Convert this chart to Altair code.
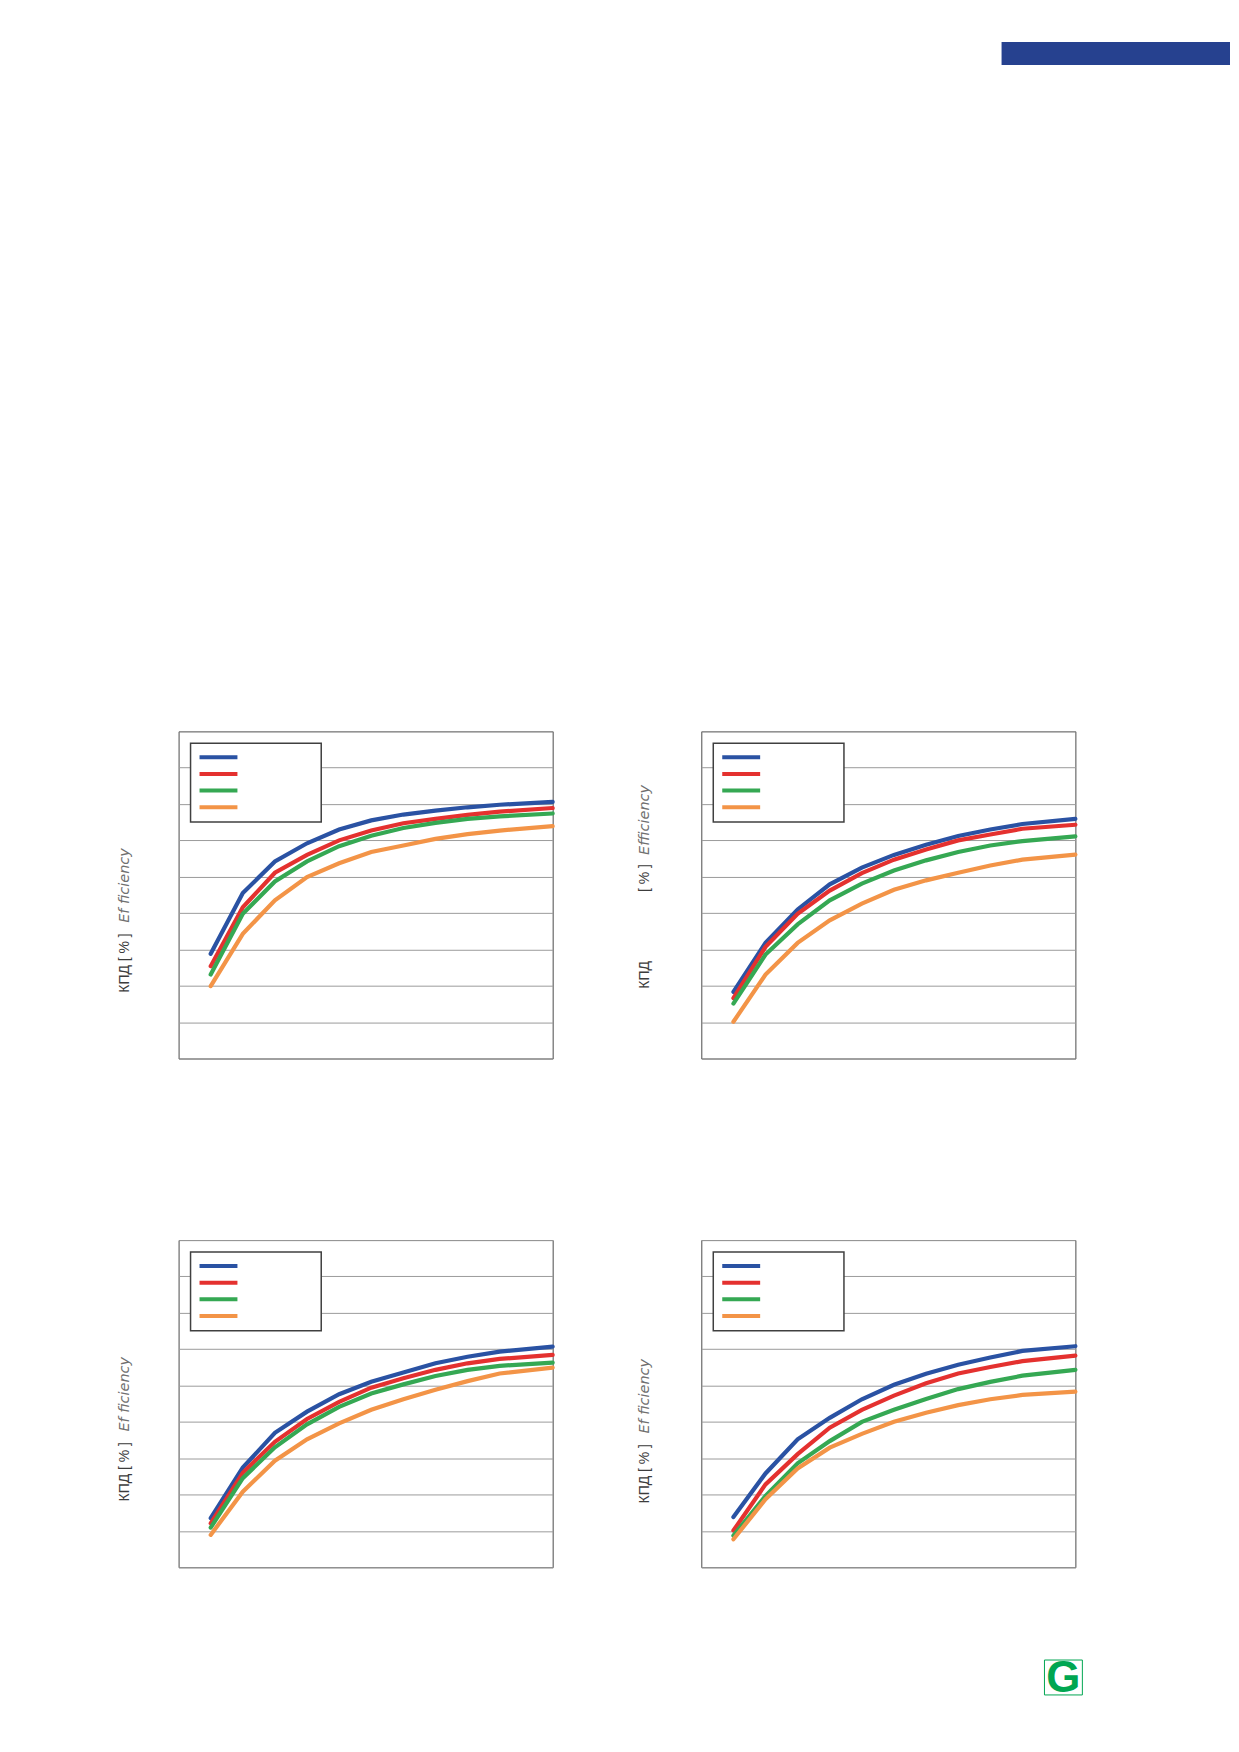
import altair as alt
import pandas as pd

# ---- data ----
SERIES = ["1", "2", "3", "4"]          # legend labels not legible in the source
COLORS = ["#2A52A3", "#E4312F", "#35A853", "#F39447"]
LOAD = [10, 20, 30, 40, 50, 60, 70, 80, 90, 100, 116.5]

P1_BLUE = [38.8, 55.5, 64.2, 69.2, 73.0, 75.5, 77.1, 78.2, 79.1, 79.8, 80.6]
P1_RED = [35.4, 51.6, 61.1, 66.0, 70.0, 72.7, 74.7, 75.9, 77.0, 77.9, 78.9]
P1_GREEN = [33.1, 49.8, 58.7, 64.2, 68.4, 71.3, 73.4, 74.8, 75.9, 76.6, 77.4]
P1_ORANGE = [29.9, 44.3, 53.5, 59.9, 63.7, 66.8, 68.6, 70.4, 71.7, 72.7, 73.9]

P2_BLUE = [28.3, 41.8, 51.0, 57.9, 62.5, 66.0, 68.8, 71.2, 73.0, 74.5, 75.9]
P2_RED = [26.6, 40.7, 49.8, 56.2, 61.0, 64.7, 67.5, 70.0, 71.6, 73.2, 74.3]
P2_GREEN = [25.1, 38.6, 46.9, 53.5, 58.1, 61.7, 64.5, 66.8, 68.6, 69.8, 71.1]
P2_ORANGE = [20.1, 33.1, 41.8, 48.0, 52.6, 56.4, 59.0, 61.1, 63.1, 64.7, 66.1]

P3_BLUE = [23.5, 37.4, 47.0, 52.8, 57.6, 61.0, 63.6, 66.1, 67.9, 69.3, 70.7]
P3_RED = [22.1, 36.0, 44.5, 50.8, 55.5, 59.4, 62.0, 64.3, 66.1, 67.3, 68.4]
P3_GREEN = [20.9, 34.5, 43.0, 49.3, 54.1, 57.8, 60.3, 62.6, 64.3, 65.4, 66.3]
P3_ORANGE = [18.9, 30.8, 39.3, 45.2, 49.6, 53.3, 56.2, 58.8, 61.2, 63.3, 64.9]

P4_BLUE = [23.8, 35.8, 45.2, 51.1, 56.2, 60.2, 63.2, 65.7, 67.7, 69.5, 70.8]
P4_RED = [20.1, 32.8, 41.1, 48.4, 53.3, 57.2, 60.6, 63.3, 65.1, 66.7, 68.2]
P4_GREEN = [18.7, 29.6, 38.6, 44.7, 50.0, 53.3, 56.3, 59.0, 61.0, 62.7, 64.3]
P4_ORANGE = [17.7, 28.7, 37.2, 42.9, 46.7, 50.0, 52.5, 54.6, 56.2, 57.4, 58.3]

Y_GRID = [10, 20, 30, 40, 50, 60, 70, 80, 90, 100]

TITLE_MAIN = "КПД [ % ]"
TITLE_EN = "Ef ficiency"

FONT = "Liberation Sans"
FONT_EN = "DejaVu Sans"
W, H = 375, 328


def long_df(series_vals):
    rows = []
    for name, vals in zip(SERIES, series_vals):
        for x, v in zip(LOAD, vals):
            rows.append({"load": x, "eff": v, "series": name})
    return pd.DataFrame(rows)


def vtext(txt, x, y, color, italic=False):
    return alt.Chart(pd.DataFrame({"t": [txt]})).mark_text(
        angle=270, align="left", baseline="middle",
        font=FONT_EN if italic else FONT, fontSize=14.5 if italic else 14,
        fontStyle="italic" if italic else "normal", color=color
    ).encode(text="t:N", x=alt.value(x), y=alt.value(y))


def lines(series_vals):
    return alt.Chart(long_df(series_vals)).mark_line(strokeWidth=4.2, strokeCap="round").encode(
        x=alt.X("load:Q", scale=alt.Scale(domain=[0, 116.5], nice=False, zero=False),
                axis=alt.Axis(labels=False, ticks=False, domain=False, grid=False, title=None)),
        y=alt.Y("eff:Q", scale=alt.Scale(domain=[10, 100], nice=False, zero=False),
                axis=alt.Axis(values=Y_GRID, labels=False, ticks=False, domain=False,
                              grid=True, gridColor="#9b9b9b", gridWidth=1, title=None)),
        color=alt.Color("series:N", scale=alt.Scale(domain=SERIES, range=COLORS),
                        legend=alt.Legend(orient="none", legendX=12, legendY=12, title=None,
                                          labelExpr="''", symbolType="stroke",
                                          symbolStrokeWidth=4, symbolSize=1444,
                                          clipHeight=12, rowPadding=4.7, padding=8,
                                          strokeColor="#404040", fillColor="white",
                                          labelOffset=74, symbolOffset=-1)),
    )


p1 = alt.layer(
    lines([P1_BLUE, P1_RED, P1_GREEN, P1_ORANGE]),
    vtext(TITLE_MAIN, -54, 262, "#3c3c3c"),
    vtext(TITLE_EN, -54, 192, "#707070", italic=True),
).properties(width=W, height=H)

bar = alt.Chart(pd.DataFrame({"k": [0]})).mark_rect(color="#26418F").encode(
    x=alt.value(301), x2=alt.value(530), y=alt.value(-691), y2=alt.value(-668))

p2 = alt.layer(
    lines([P2_BLUE, P2_RED, P2_GREEN, P2_ORANGE]),
    vtext("КПД", -56, 258, "#3c3c3c"),
    vtext("[ % ]", -56, 161, "#3c3c3c"),
    vtext("Efficiency", -56, 124, "#707070", italic=True),
    bar,
).properties(width=W, height=H)

p3 = alt.layer(
    lines([P3_BLUE, P3_RED, P3_GREEN, P3_ORANGE]),
    vtext(TITLE_MAIN, -54, 262, "#3c3c3c"),
    vtext(TITLE_EN, -54, 192, "#707070", italic=True),
).properties(width=W, height=H)

logo_box = alt.Chart(pd.DataFrame({"k": [0]})).mark_rect(
    fill="white", stroke="#00A651", strokeWidth=1).encode(
    x=alt.value(344), x2=alt.value(382), y=alt.value(421), y2=alt.value(456))
logo_g = alt.Chart(pd.DataFrame({"t": ["G"]})).mark_text(
    font=FONT, fontSize=44, fontWeight="bold", color="#00A651",
    align="center", baseline="middle").encode(
    text="t:N", x=alt.value(363), y=alt.value(440))

p4 = alt.layer(
    lines([P4_BLUE, P4_RED, P4_GREEN, P4_ORANGE]),
    vtext(TITLE_MAIN, -56, 264, "#3c3c3c"),
    vtext(TITLE_EN, -56, 194, "#707070", italic=True),
    logo_box, logo_g,
).properties(width=W, height=H)

chart = alt.concat(
    p1, p2, p3, p4, columns=2, spacing={"row": 182, "column": 149}, bounds="flush"
).resolve_scale(
    color="independent", x="independent", y="independent"
).resolve_legend(color="independent").properties(
    padding={"left": 108, "top": 31, "right": 0, "bottom": 0}
).configure_view(stroke="#4a4a4a", strokeWidth=1).configure_legend(strokeWidth=1.5)

chart.save("out.html", embed_options={"renderer": "svg", "actions": False})
